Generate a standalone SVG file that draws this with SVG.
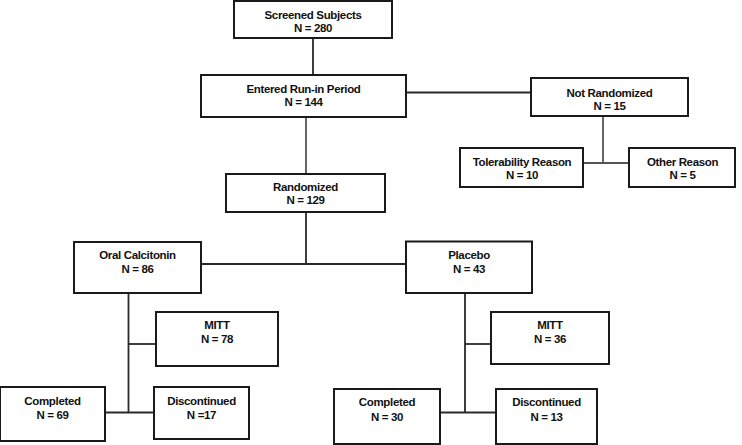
<svg xmlns="http://www.w3.org/2000/svg" width="742" height="445" viewBox="0 0 742 445">
<style>
.box{fill:#fff;stroke:#1a1a1a;stroke-width:2}
.t{font-family:"Liberation Sans",Arial,sans-serif;font-weight:bold;font-size:11.5px;fill:#111;text-anchor:middle;letter-spacing:-0.35px}
.c{fill:none;stroke:#2a2a2a;stroke-width:1.8}
.g{stroke:#555}
</style>
<rect width="742" height="445" fill="#fff"/>
<g id="connectors">
<line class="c" x1="313" y1="38" x2="313" y2="75"/>
<line class="c" x1="406" y1="92.5" x2="531" y2="92.5"/>
<line class="c g" x1="306" y1="117" x2="306" y2="174"/>
<line class="c g" x1="603" y1="116" x2="603" y2="163"/>
<line class="c g" x1="583" y1="163" x2="629" y2="163"/>
<line class="c" x1="306" y1="212" x2="306" y2="264"/>
<line class="c" x1="201" y1="264" x2="406" y2="264"/>
<line class="c" x1="128.5" y1="293" x2="128.5" y2="412.5"/>
<line class="c" x1="128.5" y1="344" x2="156" y2="344"/>
<line class="c" x1="105" y1="412.5" x2="154" y2="412.5"/>
<line class="c" x1="465" y1="293" x2="465" y2="412.5"/>
<line class="c" x1="465" y1="344" x2="491" y2="344"/>
<line class="c" x1="440" y1="412.5" x2="496" y2="412.5"/>
</g>
<g id="screened"><rect class="box" x="234" y="1" width="158" height="37"/><text class="t" x="313" y="18.5">Screened Subjects</text><text class="t" x="313" y="31.5">N = 280</text></g>
<g id="runin"><rect class="box" x="201" y="75" width="205" height="42"/><text class="t" x="303.5" y="92.5">Entered Run-in Period</text><text class="t" x="303.5" y="106">N = 144</text></g>
<g id="notrandomized"><rect class="box" x="531" y="78" width="157" height="38"/><text class="t" x="609.5" y="97">Not Randomized</text><text class="t" x="609.5" y="110">N = 15</text></g>
<g id="tolerability"><rect class="box" x="460" y="148" width="123" height="39"/><text class="t" x="522" y="165.5">Tolerability Reason</text><text class="t" x="522" y="179">N = 10</text></g>
<g id="other"><rect class="box" x="629" y="148" width="106" height="39"/><text class="t" x="682.5" y="165.5">Other Reason</text><text class="t" x="682.5" y="179">N = 5</text></g>
<g id="randomized"><rect class="box" x="226" y="174" width="159" height="38"/><text class="t" x="305.5" y="190.5">Randomized</text><text class="t" x="305.5" y="204">N = 129</text></g>
<g id="oral"><rect class="box" x="74" y="242" width="127" height="51"/><text class="t" x="137.5" y="259">Oral Calcitonin</text><text class="t" x="137.5" y="272.5">N = 86</text></g>
<g id="placebo"><rect class="box" x="406" y="241.5" width="126" height="51.5"/><text class="t" x="469" y="259">Placebo</text><text class="t" x="469" y="272.5">N = 43</text></g>
<g id="mitt1"><rect class="box" x="156" y="312" width="122" height="54"/><text class="t" x="217" y="329">MITT</text><text class="t" x="217" y="343">N = 78</text></g>
<g id="mitt2"><rect class="box" x="491" y="312" width="118" height="52"/><text class="t" x="550" y="329">MITT</text><text class="t" x="550" y="343">N = 36</text></g>
<g id="completed1"><rect class="box" x="0" y="387" width="105" height="54"/><text class="t" x="52.5" y="405">Completed</text><text class="t" x="52.5" y="419">N = 69</text></g>
<g id="discontinued1"><rect class="box" x="154" y="387" width="95" height="52"/><text class="t" x="201.5" y="405">Discontinued</text><text class="t" x="201.5" y="419">N =17</text></g>
<g id="completed2"><rect class="box" x="334" y="389" width="106" height="55"/><text class="t" x="387" y="406">Completed</text><text class="t" x="387" y="420.5">N = 30</text></g>
<g id="discontinued2"><rect class="box" x="496" y="389" width="101" height="55"/><text class="t" x="546.5" y="406">Discontinued</text><text class="t" x="546.5" y="420.5">N = 13</text></g>
</svg>
